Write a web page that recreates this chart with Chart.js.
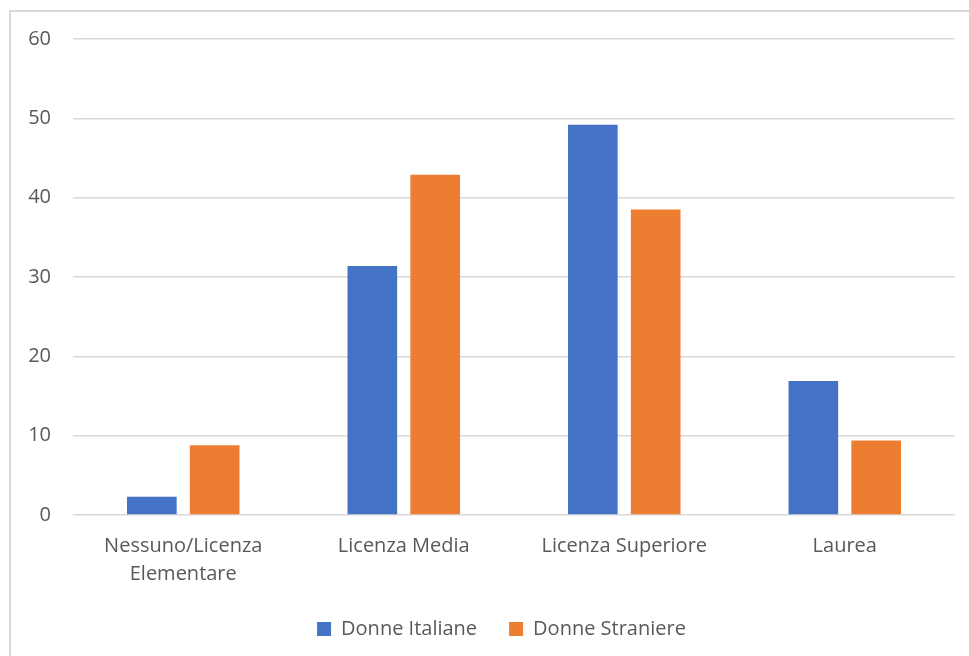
<!DOCTYPE html>
<html lang="it">
<head>
  <meta charset="UTF-8">
  <title>Titolo di studio – Donne italiane e straniere</title>
  <script src="https://cdn.jsdelivr.net/npm/chart.js"></script>
  <style>
    html, body {
      margin: 0;
      padding: 0;
      background: #ffffff;
      overflow: hidden;
    }
    .frame {
      position: absolute;
      left: 9px;
      top: 10px;
      width: 990px;
      height: 680px;
      border-left: 2px solid #d9d9d9;
      border-top: 2px solid #d9d9d9;
    }
    .wrap {
      position: absolute;
      left: 0;
      top: 0;
      width: 969px;
      height: 649px;
    }
  </style>
</head>
<body>
  <div class="frame"></div>
  <div class="wrap">
    <canvas id="studioChart"></canvas>
  </div>
  <script>
    const categorie = [['Nessuno/Licenza', 'Elementare'], 'Licenza Media', 'Licenza Superiore', 'Laurea'];
    const donneItaliane = [2.3, 31.4, 49.2, 16.9];
    const donneStraniere = [8.8, 42.9, 38.5, 9.4];
    const yMin = 0;
    const yMax = 60;
    const yStep = 10;

    const grigioTesto = '#595959';
    const grigioGriglia = '#d9d9d9';
    const fontBase = { family: "'Open Sans', 'Noto Sans', sans-serif", size: 20 };

    // la legenda sta un po' a destra rispetto al centro del canvas
    const spostaLegenda = {
      id: 'spostaLegenda',
      afterLayout(chart) {
        chart.legend.left += 14;
        chart.legend.right += 14;
      }
    };

    new Chart(document.getElementById('studioChart'), {
      type: 'bar',
      data: {
        labels: categorie,
        datasets: [{
          label: 'Donne Italiane',
          data: donneItaliane,
          backgroundColor: '#4472c4',
          borderWidth: 0
        }, {
          label: 'Donne Straniere',
          data: donneStraniere,
          backgroundColor: '#ed7d31',
          borderWidth: 0
        }]
      },
      plugins: [spostaLegenda],
      options: {
        responsive: true,
        maintainAspectRatio: false,
        animation: false,
        datasets: {
          bar: {
            categoryPercentage: 0.57,
            barPercentage: 0.79
          }
        },
        layout: {
          padding: { top: 39, left: 20, right: 14, bottom: 0 }
        },
        plugins: {
          tooltip: { enabled: false },
          legend: {
            position: 'bottom',
            labels: {
              boxWidth: 14,
              boxHeight: 14,
              padding: 32,
              color: grigioTesto,
              font: fontBase
            }
          }
        },
        scales: {
          x: {
            grid: { display: false },
            border: { display: false },
            ticks: {
              color: grigioTesto,
              font: { ...fontBase, lineHeight: 1.4 },
              padding: 9,
              maxRotation: 0
            },
            afterFit: s => { s.height = 72; }
          },
          y: {
            min: yMin,
            max: yMax,
            border: { display: false },
            grid: { color: grigioGriglia, lineWidth: 1.5, drawTicks: false },
            ticks: {
              stepSize: yStep,
              color: grigioTesto,
              font: fontBase,
              padding: 22
            },
            afterFit: s => { s.width = 53; }
          }
        }
      }
    });
  </script>
</body>
</html>
